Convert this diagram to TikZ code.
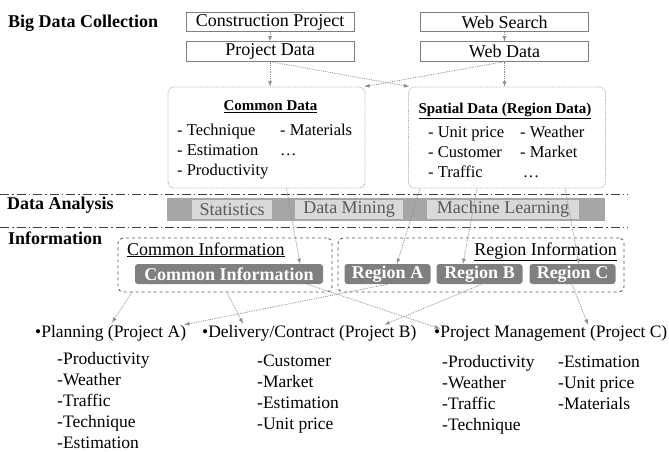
\documentclass[tikz,border=0pt]{standalone}
\usepackage{fontspec}
\setmainfont{Liberation Serif}
\usetikzlibrary{arrows,positioning}
\tikzset{>=latex}

\definecolor{boxgray}{HTML}{808080}
\definecolor{dotgray}{HTML}{A6A6A6}
\definecolor{linegray}{HTML}{8C8C8C}
\definecolor{sepgray}{HTML}{404040}
\definecolor{bargray}{HTML}{A6A6A6}
\definecolor{toolgray}{HTML}{D9D9D9}
\definecolor{tooltext}{HTML}{595959}
\definecolor{dashgray}{HTML}{595959}
\definecolor{regiongray}{HTML}{7F7F7F}

\begin{document}
\begin{tikzpicture}[x=1pt, y=-1pt, node distance=29.5pt, on grid,
  sect/.style={font=\bfseries\fontsize{18}{20}\selectfont, anchor=base west, inner sep=0pt},
  srcbox/.style={draw=boxgray, line width=0.8pt, minimum width=168pt, minimum height=19.5pt, inner sep=0pt, font=\fontsize{18}{20}\selectfont},
  databox/.style={draw=dotgray, densely dotted, line width=0.8pt, rounded corners=6pt, minimum width=197pt, minimum height=101pt},
  dtitle/.style={font=\bfseries\fontsize{15}{17}\selectfont, anchor=base, inner sep=0pt},
  items/.style={font=\fontsize{16.5}{20}\selectfont, anchor=base west, inner sep=0pt},
  bar/.style={fill=bargray, minimum width=438pt, minimum height=23pt, inner sep=0pt},
  tool/.style={fill=toolgray, text=tooltext, minimum height=19pt, inner sep=0pt, font=\fontsize{18}{20}\selectfont},
  infobox/.style={draw=dashgray, dashed, line width=0.9pt, rounded corners=5pt, minimum height=54pt},
  plain/.style={font=\fontsize{18}{20}\selectfont, inner sep=0pt},
  region/.style={fill=regiongray, rounded corners=3pt, text=white, font=\bfseries\fontsize{18}{20}\selectfont, minimum width=86pt, minimum height=20pt, inner sep=0pt},
  usecase/.style={font=\fontsize{17.5}{20}\selectfont, anchor=base west, inner sep=0pt},
  sublist/.style={font=\fontsize{17.5}{21}\selectfont, anchor=base west, inner sep=0pt},
  sep/.style={draw=sepgray, line width=0.9pt, dash pattern=on 9pt off 3pt on 1.5pt off 3pt},
  flow/.style={->, densely dotted, draw=linegray, line width=0.8pt}]
  \useasboundingbox (0,0) rectangle (669,452);

  % section labels
  \node[sect] (lbl-col) at (8,28) {Big Data Collection};
  \node[sect] (lbl-ana) at (7,209) {Data Analysis};
  \node[sect] (lbl-inf) at (8,244) {Information};

  % sources
  \node[srcbox] (cp) at (270,22) {Construction Project};
  \node[srcbox] (pd) [below=of cp] {Project Data};
  \node[srcbox] (ws) at (504.5,22) {Web Search};
  \node[srcbox] (wd) [below=of ws] {Web Data};

  % common / spatial data
  \node[databox] (cd) at (266.5,137.5) {};
  \node[dtitle] (cd-t) at (270.5,110.5) {\underline{Common Data}};
  \node[items] (cd-i) at (177,135.5) {\begin{tabular}[t]{@{}p{103pt}@{}l@{}}
    - Technique & - Materials\\
    - Estimation & …\\
    - Productivity & \end{tabular}};
  \node[databox] (sd) at (507,137.5) {};
  \node[dtitle] (sd-t) at (505,113) {\underline{Spatial Data (Region Data)}};
  \node[items] (sd-i) at (428,137.5) {\begin{tabular}[t]{@{}p{92pt}@{}l@{}}
    - Unit price & - Weather\\
    - Customer & - Market\\
    - Traffic & \,… \end{tabular}};

  % separators
  \draw[sep] (0,194) -- (628,194);
  \draw[sep] (0,227) -- (628,227);

  % analysis
  \node[bar] (bar) at (386,209.5) {};
  \node[tool, minimum width=80pt] (st) at (232,209.5) {Statistics};
  \node[tool, minimum width=108pt] (dm) at (349,209.5) {Data Mining};
  \node[tool, minimum width=152pt] (ml) at (503,209.5) {Machine Learning};

  % information
  \node[infobox, minimum width=214pt] (cib) at (225,265) {};
  \node[infobox, minimum width=286pt] (rib) at (481,265) {};
  \node[plain, anchor=base west] (cib-t) at (127,255) {\underline{Common Information}};
  \node[plain, anchor=base east] (rib-t) at (617,255) {\underline{Region Information}};
  \node[region, minimum width=188pt] (ci) at (229,274) {Common Information};
  \node[region] (ra) at (387.5,274) {Region A};
  \node[region] (rb) at (479.5,274) {Region B};
  \node[region] (rc) at (572.5,274) {Region C};

  % use cases
  \node[usecase] (pa) at (35,337) {•Planning (Project A)};
  \node[usecase] (db) at (202,337) {•Delivery/Contract (Project B)};
  \node[usecase] (pm) at (434,337) {•Project Management (Project C)};
  \node[sublist] (pa-l) at (57,364) {\begin{tabular}[t]{@{}l@{}}
    -Productivity\\ -Weather\\ -Traffic\\ -Technique\\ -Estimation\end{tabular}};
  \node[sublist] (db-l) at (257,366) {\begin{tabular}[t]{@{}l@{}}
    -Customer\\ -Market\\ -Estimation\\ -Unit price\end{tabular}};
  \node[sublist] (pm-l) at (442,367) {\begin{tabular}[t]{@{}p{116pt}@{}l@{}}
    -Productivity & -Estimation\\
    -Weather & -Unit price\\
    -Traffic & -Materials\\
    -Technique & \end{tabular}};

  % flows
  \draw[flow] (cp) -- (pd);
  \draw[flow] (ws) -- (wd);
  \draw[flow] (pd.south) -- (pd.south |- cd.north);
  \draw[flow] (pd.south) -- ([xshift=1pt]sd.north west);
  \draw[flow] (wd.south) -- ([xshift=-1pt]cd.north east);
  \draw[flow] (wd.south) -- (wd.south |- sd.north);
  \draw[flow] ([xshift=20pt]cd.south) -- ([xshift=71pt]ci.north);
  \draw[flow] ([xshift=-87pt]sd.south) -- ([xshift=9.5pt]ra.north);
  \draw[flow] ([xshift=-30pt]sd.south) -- ([xshift=-16.5pt]rb.north);
  \draw[flow] ([xshift=58pt]sd.south) -- ([xshift=6.5pt]rc.north);
  \draw[flow] ([xshift=-93pt]cib.south) -- ([xshift=77pt,yshift=2pt]pa.north west);
  \draw[flow] ([xshift=2pt]cib.south) -- ([xshift=41pt,yshift=1pt]db.north west);
  \draw[flow] ([xshift=-16pt]ci.south east) -- ([xshift=6pt,yshift=-4pt]pm.north west);
  \draw[flow] (ra.south) -- ([xshift=-2pt]pa.north east);
  \draw[flow] ([xshift=2.5pt]rb.south) -- ([xshift=-32pt]db.north east);
  \draw[flow] ([xshift=-0.5pt]rc.south) -- ([xshift=154pt]pm.north west);
\end{tikzpicture}
\end{document}
